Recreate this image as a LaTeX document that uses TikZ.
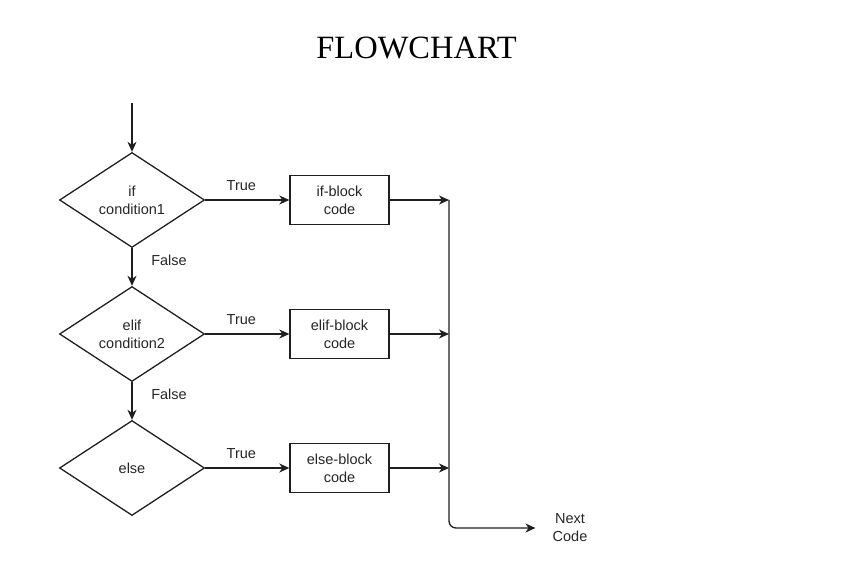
\documentclass[tikz,border=0pt]{standalone}
\usepackage{fontspec}
\setmainfont{Liberation Sans}
\newfontfamily\titlefont{Liberation Serif}
\usetikzlibrary{shapes.geometric,arrows.meta}

\tikzset{
  ink/.style={draw=black!88, line width=1.3pt},
  decision/.style={ink, diamond, aspect=1.53, minimum width=145pt, minimum height=95pt,
    inner sep=0pt, align=center, font=\fontsize{14.5}{18}\selectfont, text=black!85},
  block/.style={ink, rectangle, minimum width=99pt, minimum height=49pt,
    inner sep=0pt, align=center, font=\fontsize{14.5}{18}\selectfont, text=black!85},
  flow/.style={ink, -{Stealth[length=10pt,width=9pt,inset=3pt]}},
  lbl/.style={font=\fontsize{14.5}{18}\selectfont, text=black!85, inner sep=0pt},
}

\begin{document}
\begin{tikzpicture}[x=1pt,y=-1pt]
\useasboundingbox (0,0) rectangle (851,564);

% title
\node[font=\titlefont\fontsize{32.5}{38}\selectfont] (title) at (416.5,48) {FLOWCHART};

% decisions
\node[decision] (d1) at (132,200) {if\\condition1};
\node[decision] (d2) at (132,334) {elif\\condition2};
\node[decision] (d3) at (132,468) {else};

% code blocks
\node[block] (b1) at (339.5,200) {if-block\\code};
\node[block] (b2) at (339.5,334) {elif-block\\code};
\node[block] (b3) at (339.5,468) {else-block\\code};

% entry and merge points
\coordinate (start) at (132,103);
\coordinate (j1) at (449,200);
\coordinate (j2) at (449,334);
\coordinate (j3) at (449,468);
\node[lbl, align=center, inner xsep=17pt] (nc) at (570,528) {Next\\Code};

% entry
\draw[flow] (start) -- (d1.north);

% false branches
\draw[flow] (d1.south) -- node[lbl, pos=0.31, xshift=37pt] {False} (d2.north);
\draw[flow] (d2.south) -- node[lbl, pos=0.31, xshift=37pt] {False} (d3.north);

% true branches
\draw[flow] (d1.east) -- node[lbl, pos=0.43, yshift=14pt] {True} (b1.west);
\draw[flow] (d2.east) -- node[lbl, pos=0.43, yshift=14pt] {True} (b2.west);
\draw[flow] (d3.east) -- node[lbl, pos=0.43, yshift=14pt] {True} (b3.west);

% blocks into the merge line
\draw[flow] (b1.east) -- (j1);
\draw[flow] (b2.east) -- (j2);
\draw[flow] (b3.east) -- (j3);

% merge line down to the next code
\draw[flow, rounded corners=7pt] (j1) -- (j1 |- nc.west) -- (nc.west);
\end{tikzpicture}
\end{document}
